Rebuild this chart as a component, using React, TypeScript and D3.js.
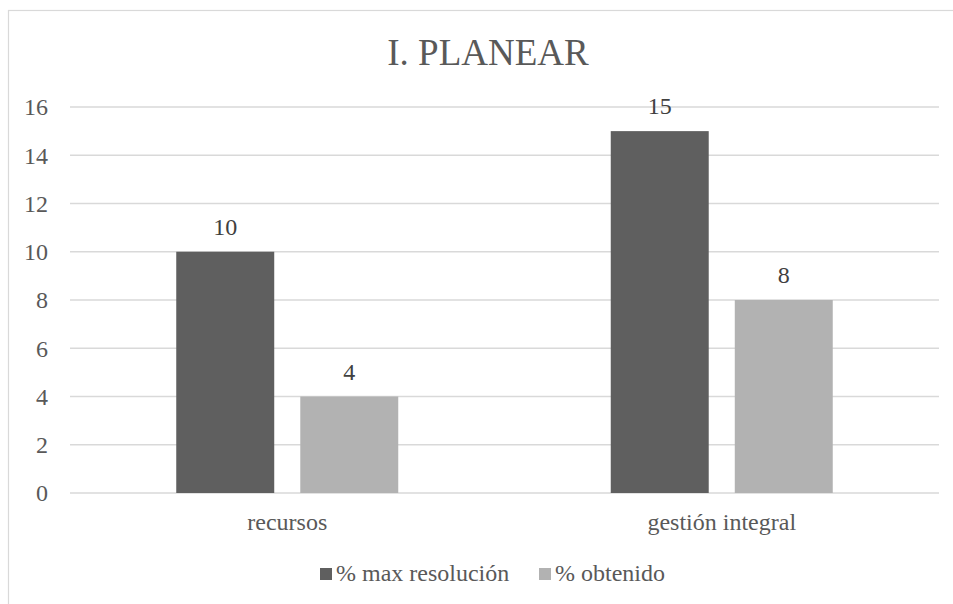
import { useEffect, useRef } from 'react';
import * as d3 from 'd3';

const categories = ['recursos', 'gestión integral'];
const seriesNames = ['% max resolución', '% obtenido'];
const maxResolucion = [10, 15];
const obtenido = [4, 8];
const yTicks = [0, 2, 4, 6, 8, 10, 12, 14, 16];
const colors = ['#5f5f5f', '#b2b2b2'];

const App = () => {
    const svgRef = useRef<SVGSVGElement>(null);

    useEffect(() => {
        if (!svgRef.current) return;
        const svg = d3.select(svgRef.current);
        svg.selectAll('*').remove();

        const textColor = '#595959';
        const left = 70, right = 939, top = 107, bottom = 493;

        // chart border
        svg.append('rect')
            .attr('x', 8.5).attr('y', 10.5)
            .attr('width', 958).attr('height', 620)
            .attr('fill', '#fff')
            .attr('stroke', '#d9d9d9')
            .attr('stroke-width', 1.2);

        // title
        svg.append('text')
            .attr('x', 488).attr('y', 65)
            .attr('text-anchor', 'middle')
            .style('font-size', '37px')
            .attr('fill', textColor)
            .text('I. PLANEAR');

        const y = d3.scaleLinear().domain([0, 16]).range([bottom, top]);
        const x0 = d3.scaleBand<string>().domain(categories).range([left, right]);
        const groupWidth = 222;
        const x1 = d3.scaleBand<string>().domain(seriesNames).range([0, groupWidth]).paddingInner(0.21);

        // grid lines
        svg.append('g')
            .selectAll('line')
            .data(yTicks)
            .enter().append('line')
            .attr('x1', left).attr('x2', right)
            .attr('y1', d => y(d)).attr('y2', d => y(d))
            .attr('stroke', '#d9d9d9')
            .attr('stroke-width', 1.3);

        // y labels
        svg.append('g')
            .selectAll('text')
            .data(yTicks)
            .enter().append('text')
            .attr('x', 48)
            .attr('y', d => y(d))
            .attr('dy', '0.35em')
            .attr('text-anchor', 'end')
            .style('font-size', '24px')
            .attr('fill', textColor)
            .text(d => d);

        const values = [maxResolucion, obtenido];

        categories.forEach((cat, ci) => {
            const gx = x0(cat)! + (x0.bandwidth() - groupWidth) / 2;
            seriesNames.forEach((s, si) => {
                const v = values[si][ci];
                const bx = gx + x1(s)!;
                svg.append('rect')
                    .attr('x', bx)
                    .attr('y', y(v))
                    .attr('width', x1.bandwidth())
                    .attr('height', y(0) - y(v))
                    .attr('fill', colors[si]);

                svg.append('text')
                    .attr('x', bx + x1.bandwidth() / 2)
                    .attr('y', y(v) - 17)
                    .attr('text-anchor', 'middle')
                    .style('font-size', '24px')
                    .attr('fill', '#404040')
                    .text(v);
            });

            // category label
            svg.append('text')
                .attr('x', x0(cat)! + x0.bandwidth() / 2)
                .attr('y', 530)
                .attr('text-anchor', 'middle')
                .style('font-size', '24px')
                .attr('fill', textColor)
                .text(cat);
        });

        // legend
        const legendX = [320, 539];
        seriesNames.forEach((s, i) => {
            svg.append('rect')
                .attr('x', legendX[i]).attr('y', 568)
                .attr('width', 12).attr('height', 12)
                .attr('fill', colors[i]);
            svg.append('text')
                .attr('x', legendX[i] + 16)
                .attr('y', 581)
                .style('font-size', '24px')
                .attr('fill', textColor)
                .text(s);
        });
    }, []);

    return (
        <svg
            ref={svgRef}
            width={953}
            height={604}
            style={{
                position: 'absolute',
                left: 0,
                top: 0,
                fontFamily: "Tinos, 'Liberation Serif', 'DejaVu Serif', 'Times New Roman', serif",
            }}
        />
    );
};

export default App;
